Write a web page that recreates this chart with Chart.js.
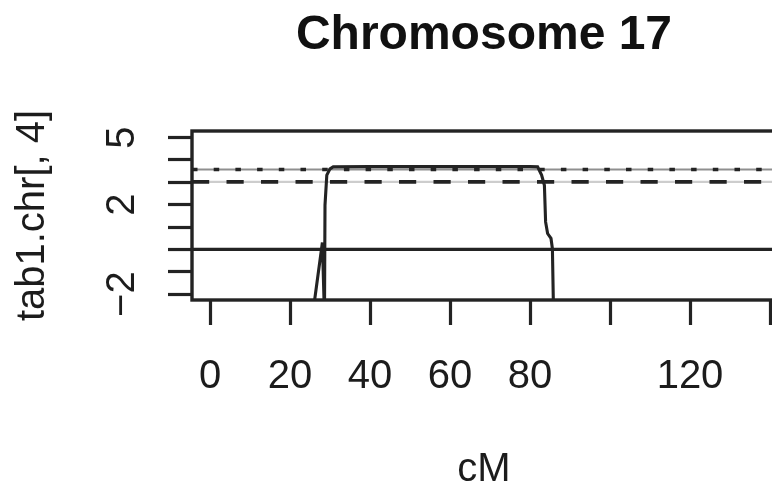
<!DOCTYPE html>
<html>
<head>
<meta charset="utf-8">
<script src="https://cdn.jsdelivr.net/npm/chart.js@4.4.1/dist/chart.umd.min.js"></script>
<style>
  html, body { margin: 0; padding: 0; background: #ffffff; overflow: hidden; width: 772px; height: 497px; }
  #wrap { width: 800px; height: 497px; }
  canvas { display: block; }
</style>
</head>
<body>
<div id="wrap"><canvas id="c" width="800" height="497"></canvas></div>
<script>
// ---- data ----
const titleText = 'Chromosome 17';
const xAxisTitle = 'cM';
const yAxisTitle = 'tab1.chr[, 4]';

const xTickValues = [0, 20, 40, 60, 80, 100, 120, 140];
const xTickLabels = ['0', '20', '40', '60', '80', '', '120', ''];
const yTickValues = [-2, -1, 0, 1, 2, 3, 4, 5];
const yTickLabels = ['\u22122', '', '', '', '2', '', '', '5'];

const xRange = [-4.5, 141.5];
const yRange = [-2.263, 5.295];

// LOD-like curve (cM, value); values below the plot floor are clipped
const lodCM    = [25.6, 28.1, 28.62, 28.65, 28.75, 29.2, 30.0, 30.8, 40, 50, 60, 70, 80, 81.9, 82.9, 83.6, 83.9, 84.4, 85.25, 85.6, 85.9];
const lodValue = [-3.0, 0.31, -3.0, -3.0, 1.98, 3.32, 3.60, 3.69, 3.70, 3.70, 3.70, 3.70, 3.70, 3.69, 3.32, 2.87, 1.23, 0.71, 0.49, 0.04, -3.0];

// horizontal reference levels
const zeroLevel = 0;
const dottedLevel = 3.57;
const dashedLevel = 3.02;

// ---- build chart ----
const ink = '#232323';
Chart.defaults.font.family = "'Liberation Sans', Arial, Helvetica, sans-serif";
Chart.defaults.color = '#1c1c1c';

function hline(level) {
  return [{x: xRange[0], y: level}, {x: xRange[1], y: level}];
}

const boxPlugin = {
  id: 'box',
  afterDatasetsDraw(chart) {
    const {ctx, chartArea: a} = chart;
    ctx.save();
    ctx.strokeStyle = ink;
    ctx.lineWidth = 3.4;
    ctx.strokeRect(a.left, a.top, a.right - a.left, a.bottom - a.top);
    ctx.restore();
  }
};

const common = {pointRadius: 0, pointHoverRadius: 0, tension: 0, fill: false, clip: 0};

new Chart(document.getElementById('c'), {
  type: 'line',
  data: {
    datasets: [
      Object.assign({}, common, {
        label: 'curve', order: 1,
        data: lodCM.map((x, i) => ({x, y: lodValue[i]})),
        borderColor: ink, borderWidth: 3.1
      }),
      Object.assign({}, common, {
        label: 'zero', order: 2,
        data: hline(zeroLevel), borderColor: ink, borderWidth: 3.4
      }),
      Object.assign({}, common, {
        label: 'dotted', order: 3,
        data: hline(dottedLevel), borderColor: ink, borderWidth: 3.6, borderDash: [5.5, 16.2]
      }),
      Object.assign({}, common, {
        label: 'dottedBase', order: 4,
        data: hline(dottedLevel), borderColor: '#8f8f8f', borderWidth: 2
      }),
      Object.assign({}, common, {
        label: 'dashed', order: 5,
        data: hline(dashedLevel), borderColor: ink, borderWidth: 3.6, borderDash: [17.2, 17.3]
      }),
      Object.assign({}, common, {
        label: 'dashedBase', order: 6,
        data: hline(dashedLevel), borderColor: '#cdcdcd', borderWidth: 2.2
      })
    ]
  },
  options: {
    responsive: false,
    animation: false,
    devicePixelRatio: 1,
    events: [],
    layout: {padding: {left: 0, right: 24, top: 0, bottom: 0}},
    plugins: {
      legend: {display: false},
      tooltip: {enabled: false},
      title: {
        display: true,
        text: titleText,
        fullSize: false,
        color: '#111111',
        font: {size: 48, weight: 'bold', lineHeight: 1.2},
        padding: {top: 7, bottom: 66.4}
      }
    },
    scales: {
      x: {
        type: 'linear',
        position: 'bottom',
        min: xRange[0],
        max: xRange[1],
        afterBuildTicks: s => { s.ticks = xTickValues.map(v => ({value: v})); },
        afterFit: s => { s.height = 197; },
        ticks: {
          autoSkip: false,
          maxRotation: 0,
          minRotation: 0,
          padding: 28,
          font: {size: 40, lineHeight: 1.2},
          callback: v => { const i = xTickValues.indexOf(v); return i >= 0 ? xTickLabels[i] : ''; }
        },
        grid: {drawOnChartArea: false, drawTicks: true, tickLength: 25, tickWidth: 3.2, tickColor: ink},
        border: {display: false},
        title: {display: true, text: xAxisTitle, font: {size: 40, lineHeight: 1.2}, padding: {top: 0, bottom: 3}}
      },
      y: {
        type: 'linear',
        position: 'left',
        min: yRange[0],
        max: yRange[1],
        afterBuildTicks: s => { s.ticks = yTickValues.map(v => ({value: v})); },
        afterFit: s => { s.width = 192; },
        ticks: {
          autoSkip: false,
          minRotation: 90,
          maxRotation: 90,
          crossAlign: 'center',
          padding: 22.7,
          font: {size: 40, lineHeight: 1.2},
          callback: v => { const i = yTickValues.indexOf(v); return i >= 0 ? yTickLabels[i] : ''; }
        },
        grid: {drawOnChartArea: false, drawTicks: true, tickLength: 24, tickWidth: 3.2, tickColor: ink},
        border: {display: false},
        title: {display: true, text: yAxisTitle, font: {size: 40, lineHeight: 1.2}, padding: {top: 9.3, bottom: 0}}
      }
    }
  },
  plugins: [boxPlugin]
});
</script>
</body>
</html>
